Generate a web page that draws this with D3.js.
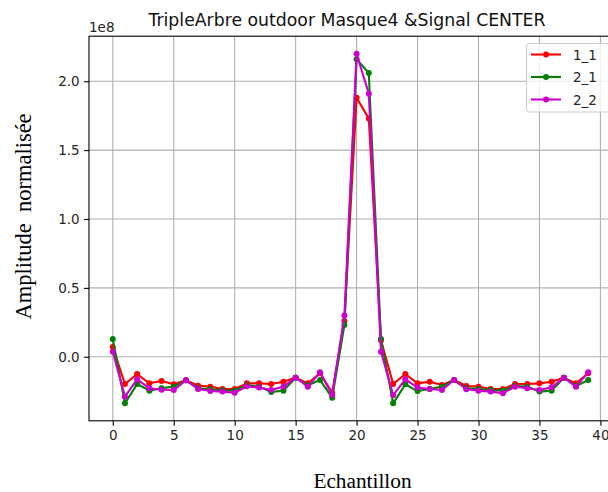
<!DOCTYPE html>
<html>
<head>
<meta charset="utf-8">
<script src="https://cdn.jsdelivr.net/npm/d3@7"></script>
<style>
  html, body { margin: 0; padding: 0; background: #fff; }
  svg { display: block; }
</style>
</head>
<body>
<svg id="chart" width="608" height="492"></svg>
<script>
// Values are in units of 1e8 (axis offset label "1e8")
const samples = d3.range(0, 40);
const seriesNames = ["1_1", "2_1", "2_2"];
const seriesColors = ["#ff0000", "#008000", "#cc00cc"];
const s1_1 = [0.07, -0.198, -0.125, -0.193, -0.176, -0.2, -0.171, -0.21, -0.217, -0.234,
  -0.234, -0.193, -0.193, -0.198, -0.181, -0.152, -0.193, -0.12, -0.261, 0.26,
  1.88, 1.73, 0.12, -0.198, -0.125, -0.193, -0.181, -0.205, -0.169, -0.212,
  -0.217, -0.234, -0.234, -0.198, -0.198, -0.193, -0.181, -0.152, -0.193, -0.12];
const s2_1 = [0.128, -0.338, -0.198, -0.246, -0.229, -0.217, -0.171, -0.229, -0.236, -0.244,
  -0.246, -0.207, -0.217, -0.256, -0.246, -0.152, -0.207, -0.169, -0.297, 0.23,
  2.16, 2.06, 0.128, -0.338, -0.2, -0.249, -0.234, -0.217, -0.169, -0.229,
  -0.234, -0.241, -0.246, -0.212, -0.217, -0.253, -0.246, -0.152, -0.212, -0.169];
const s2_2 = [0.036, -0.29, -0.164, -0.229, -0.239, -0.241, -0.171, -0.234, -0.249, -0.253,
  -0.261, -0.215, -0.224, -0.241, -0.217, -0.152, -0.217, -0.113, -0.278, 0.3,
  2.2, 1.91, 0.036, -0.278, -0.164, -0.224, -0.234, -0.241, -0.169, -0.236,
  -0.246, -0.253, -0.265, -0.217, -0.229, -0.241, -0.222, -0.152, -0.217, -0.113];
const xTicks = [0, 5, 10, 15, 20, 25, 30, 35, 40];
const yTicks = [0.0, 0.5, 1.0, 1.5, 2.0];
const titleText = "TripleArbre outdoor Masque4 &Signal CENTER";
const xLabel = "Echantillon";
const yLabel = "Amplitude  normalisée";
const offsetLabel = "1e8";

const allSeries = [s1_1, s2_1, s2_2];

const svg = d3.select("#chart");
const L = 89, R = 612, T = 36.2, B = 420.8;

const xMin = d3.min(samples), xMax = d3.max(samples);
const xPad = (xMax - xMin) * 0.05;
const x = d3.scaleLinear().domain([xMin - xPad, xMax + xPad]).range([L, R]);
const allVals = allSeries.flat();
const yLo = d3.min(allVals), yHi = d3.max(allVals);
const yPad = (yHi - yLo) * 0.05;
const y = d3.scaleLinear().domain([yLo - yPad, yHi + yPad]).range([B, T]);

const tickFont = "DejaVu Sans, sans-serif";
const serifFont = "Liberation Serif, Times New Roman, serif";

// grid
const grid = svg.append("g");
grid.selectAll("line.vx").data(xTicks).enter().append("line")
  .attr("x1", d => x(d)).attr("x2", d => x(d)).attr("y1", T).attr("y2", B)
  .attr("stroke", "#b0b0b0").attr("stroke-width", 1.1);
grid.selectAll("line.hy").data(yTicks).enter().append("line")
  .attr("x1", L).attr("x2", R).attr("y1", d => y(d)).attr("y2", d => y(d))
  .attr("stroke", "#b0b0b0").attr("stroke-width", 1.1);

// series
const line = d3.line().x((d, i) => x(samples[i])).y(d => y(d));
allSeries.forEach((s, k) => {
  const g = svg.append("g");
  g.append("path").datum(s).attr("d", line)
    .attr("fill", "none").attr("stroke", seriesColors[k]).attr("stroke-width", 2.1)
    .attr("stroke-linejoin", "round").attr("stroke-linecap", "square");
  g.selectAll("circle").data(s).enter().append("circle")
    .attr("cx", (d, i) => x(samples[i])).attr("cy", d => y(d)).attr("r", 3)
    .attr("fill", seriesColors[k]);
});

// axes
const xAxis = d3.axisBottom(x).tickValues(xTicks).tickFormat(d3.format("d")).tickSize(4.9).tickPadding(4.5);
const yAxis = d3.axisLeft(y).tickValues(yTicks).tickFormat(d3.format(".1f")).tickSize(4.9).tickPadding(4.5);
const gx = svg.append("g").attr("transform", `translate(0,${B})`).call(xAxis);
const gy = svg.append("g").attr("transform", `translate(${L},0)`).call(yAxis);
[gx, gy].forEach(g => {
  g.select(".domain").remove();
  g.selectAll(".tick line").attr("stroke", "#000").attr("stroke-width", 1.1);
  g.selectAll(".tick text").attr("font-family", tickFont).attr("font-size", 13.5).attr("fill", "#262626");
});

// spines
svg.append("rect").attr("x", L).attr("y", T).attr("width", R - L).attr("height", B - T)
  .attr("fill", "none").attr("stroke", "#000").attr("stroke-width", 1.1);

// offset label
svg.append("text").attr("x", L).attr("y", 31.5).text(offsetLabel)
  .attr("font-family", tickFont).attr("font-size", 13.5).attr("fill", "#262626");

// title
svg.append("text").attr("x", 347).attr("y", 25.5).attr("text-anchor", "middle")
  .text(titleText).attr("font-family", tickFont).attr("font-size", 17.3).attr("fill", "#111");

// axis labels
svg.append("text").attr("x", 362.5).attr("y", 488).attr("text-anchor", "middle")
  .text(xLabel).attr("font-family", serifFont).attr("font-size", 21.3).attr("fill", "#000");
svg.append("text").attr("transform", "translate(31,216.5) rotate(-90)").attr("text-anchor", "middle")
  .attr("xml:space", "preserve").style("white-space", "pre")
  .text(yLabel).attr("font-family", serifFont).attr("font-size", 22.5).attr("fill", "#000");

// legend
const lg = svg.append("g");
lg.append("rect").attr("x", 526.5).attr("y", 43.5).attr("width", 90).attr("height", 68.5)
  .attr("rx", 3).attr("fill", "#fff").attr("fill-opacity", 0.8).attr("stroke", "#cccccc").attr("stroke-width", 1);
seriesNames.forEach((n, k) => {
  const yy = 54.5 + k * 22.5;
  lg.append("line").attr("x1", 531).attr("x2", 561).attr("y1", yy).attr("y2", yy)
    .attr("stroke", seriesColors[k]).attr("stroke-width", 2.1);
  lg.append("circle").attr("cx", 546).attr("cy", yy).attr("r", 3).attr("fill", seriesColors[k]);
  lg.append("text").attr("x", 573).attr("y", yy + 5).text(n)
    .attr("font-family", tickFont).attr("font-size", 13.5).attr("fill", "#262626");
});
</script>
</body>
</html>
